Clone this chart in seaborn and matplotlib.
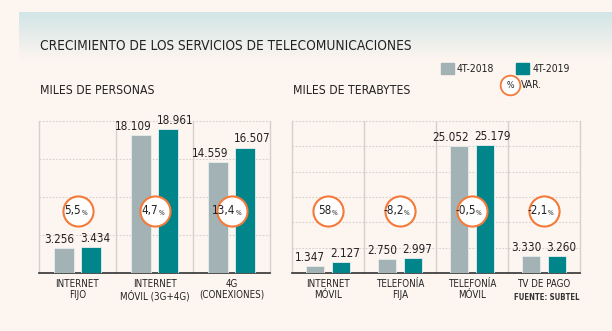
import numpy as np
import pandas as pd
import matplotlib
matplotlib.use("Agg")
import matplotlib.pyplot as plt
import matplotlib.transforms as mtransforms
import seaborn as sns

sns.set_theme(style="white")
plt.rcParams["font.family"] = ["DejaVu Sans"]
plt.rcParams["font.stretch"] = "condensed"

# ---- data -------------------------------------------------------------
periods = ["4T-2018", "4T-2019"]

people_cats = ["INTERNET\nFIJO", "INTERNET\nMÓVIL (3G+4G)", "4G\n(CONEXIONES)"]
people_2018 = [3256, 18109, 14559]
people_2019 = [3434, 18961, 16507]
people_var = ["5,5", "4,7", "13,4"]

tb_cats = ["INTERNET\nMÓVIL", "TELEFONÍA\nFIJA", "TELEFONÍA\nMÓVIL", "TV DE PAGO"]
tb_2018 = [1347, 2750, 25052, 3330]
tb_2019 = [2127, 2997, 25179, 3260]
tb_var = ["58", "-8,2", "-0,5", "-2,1"]

# ---- style ------------------------------------------------------------
BG = "#fdf5f0"
GRAY = "#a3b3b5"
TEAL = "#00868a"
ORANGE = "#f47a3a"
GRID = "#d6cfcb"
TXT = "#222222"

W, H = 612, 331
fig = plt.figure(figsize=(W / 100, H / 100), dpi=100, facecolor=BG)

# background axes in pixel coordinates for the header band
bg = fig.add_axes([0, 0, 1, 1], zorder=-10)
bg.set_xlim(0, W)
bg.set_ylim(H, 0)
bg.axis("off")
grad = np.linspace(0, 1, 100)[:, None, None]
top = np.array(matplotlib.colors.to_rgb("#d2e5e6"))
bot = np.array(matplotlib.colors.to_rgb(BG))
img = top * (1 - grad) + bot * grad
img = np.repeat(img, 2, axis=1)
bg.imshow(img, extent=[19, W, 60, 12], aspect="auto", interpolation="bilinear")

def px_axes(x0, x1, y0, y1):
    return fig.add_axes([x0 / W, 1 - y1 / H, (x1 - x0) / W, (y1 - y0) / H])

def fmt(v):
    return f"{v:,}".replace(",", ".")

def panel(ax, cats, v18, v19, var, ymax, step):
    df = pd.DataFrame({
        "cat": cats * 2,
        "periodo": [periods[0]] * len(cats) + [periods[1]] * len(cats),
        "valor": v18 + v19,
    })
    sns.barplot(data=df, x="cat", y="valor", hue="periodo", order=cats,
                hue_order=periods, palette=[GRAY, TEAL], saturation=1,
                width=0.7, gap=0.28, edgecolor="#e8eeee", linewidth=0.6,
                legend=False, ax=ax, zorder=3)
    n = len(cats)
    ax.set_xlim(-0.5, n - 0.5)
    ax.set_ylim(0, ymax)
    ax.set_facecolor("none")
    for s in ["top", "left", "right"]:
        ax.spines[s].set_visible(False)
    ax.spines["bottom"].set_color("#333333")
    ax.spines["bottom"].set_linewidth(1.2)
    ax.set_xlabel("")
    ax.set_ylabel("")
    ax.set_yticks([])
    ax.set_xticks(range(n))
    ax.set_xticklabels(cats, fontsize=7, color=TXT, linespacing=1.15)
    ax.tick_params(axis="x", length=0, pad=4)
    # dotted horizontal grid and solid group separators
    for y in np.arange(step, ymax + 1, step):
        ax.axhline(y, color=GRID, lw=0.8, ls=(0, (1.5, 1.5)), zorder=1, clip_on=False)
    for x in np.arange(-0.5, n, 1.0):
        ax.axvline(x, color=GRID, lw=1.0, zorder=1, clip_on=False)
    # value labels: first period flush right over its bar, second flush left
    for k, cont in enumerate(ax.containers):
        for bar, v in zip(cont.patches, cont.datavalues):
            if k == 0:
                x, ha, dx = bar.get_x() + bar.get_width(), "right", 0.5
            else:
                x, ha, dx = bar.get_x(), "left", -1.0
            ax.annotate(fmt(int(v)), (x, v), xytext=(dx, 1.5), textcoords="offset points",
                        ha=ha, va="bottom", fontsize=8.4, color=TXT, zorder=6)
    # percentage-change circles
    tr = mtransforms.blended_transform_factory(ax.transData, ax.transAxes)
    ax.scatter(range(n), [0.408] * n, s=470, facecolor="white", edgecolor=ORANGE,
               linewidth=1.5, transform=tr, zorder=5, clip_on=False)
    for i, t in enumerate(var):
        ax.annotate(t, (i, 0.408), xycoords=tr, xytext=(2.6, 0), textcoords="offset points",
                    ha="right", va="center", fontsize=8.4, color=TXT, zorder=6)
        ax.annotate("%", (i, 0.408), xycoords=tr, xytext=(2.8, -1.5), textcoords="offset points",
                    ha="left", va="center", fontsize=4.8, color=TXT, zorder=6)

ax1 = px_axes(39, 270, 121, 273)
panel(ax1, people_cats, people_2018, people_2019, people_var, 20000, 5000)
ax2 = px_axes(292, 580, 121, 273)
panel(ax2, tb_cats, tb_2018, tb_2019, tb_var, 30000, 5000)

# titles
bg.text(40, 46, "CRECIMIENTO DE LOS SERVICIOS DE TELECOMUNICACIONES",
        fontsize=9.8, color=TXT, va="center", ha="left")
bg.text(40, 91, "MILES DE PERSONAS", fontsize=8.7, color=TXT, va="center")
bg.text(293, 91, "MILES DE TERABYTES", fontsize=8.7, color=TXT, va="center")

# legend
bg.add_patch(plt.Rectangle((441, 63), 13, 11, color=GRAY))
bg.text(457, 68.5, "4T-2018", fontsize=7.5, color=TXT, va="center")
bg.add_patch(plt.Rectangle((516, 63), 13, 11, color=TEAL))
bg.text(533, 68.5, "4T-2019", fontsize=7.5, color=TXT, va="center")
bg.scatter([510], [85], s=200, facecolor="white", edgecolor=ORANGE, linewidth=1.3, zorder=5)
bg.text(510, 85, "%", fontsize=6.3, color=TXT, ha="center", va="center", zorder=6)
bg.text(521, 85, "VAR.", fontsize=7.5, color=TXT, va="center")

# source
bg.text(580, 298, "FUENTE: SUBTEL", fontsize=5.6, color="#333333",
        ha="right", va="center", fontweight="bold")

fig.savefig("out.png", dpi=100, facecolor=BG)
